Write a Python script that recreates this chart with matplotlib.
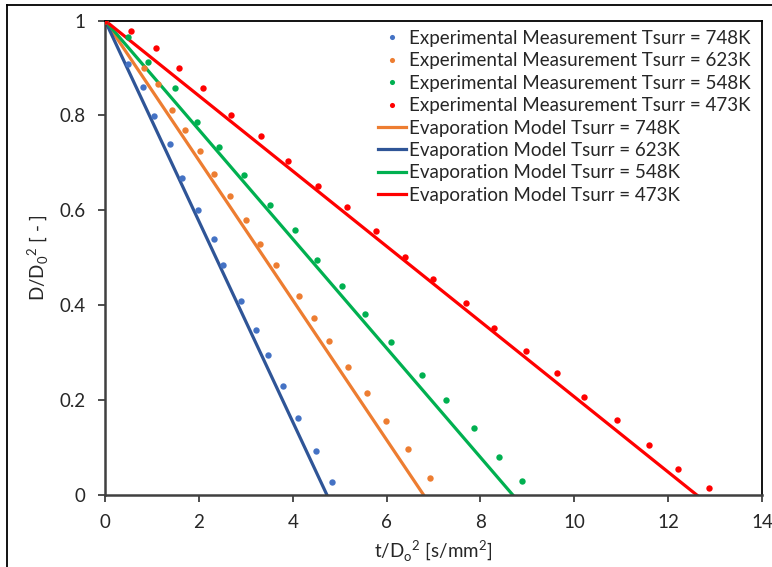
import matplotlib
matplotlib.use("Agg")
import matplotlib.pyplot as plt
from matplotlib.lines import Line2D

plt.rcParams['font.family'] = ['Lato', 'DejaVu Sans']
plt.rcParams['mathtext.fontset'] = 'custom'
plt.rcParams['mathtext.rm'] = 'Lato'

# Experimental data (t/D0^2, D/D0^2)
exp_748_x = [0, 0.497, 0.817, 1.051, 1.386, 1.648, 1.989, 2.324, 2.522, 2.893, 3.213, 3.482, 3.795, 4.122, 4.493, 4.840]
exp_748_y = [1, 0.909, 0.859, 0.799, 0.740, 0.669, 0.600, 0.540, 0.485, 0.408, 0.347, 0.295, 0.230, 0.162, 0.092, 0.027]

exp_623_x = [0, 0.838, 1.136, 1.435, 1.712, 2.032, 2.324, 2.665, 3.006, 3.305, 3.640, 4.143, 4.450, 4.782, 5.188, 5.580, 5.996, 6.461, 6.915]
exp_623_y = [1, 0.899, 0.866, 0.811, 0.770, 0.726, 0.676, 0.631, 0.580, 0.529, 0.485, 0.420, 0.373, 0.325, 0.270, 0.214, 0.155, 0.096, 0.036]

exp_548_x = [0, 0.497, 0.923, 1.493, 1.962, 2.431, 2.970, 3.518, 4.058, 4.520, 5.047, 5.537, 6.098, 6.753, 7.256, 7.861, 8.394, 8.876]
exp_548_y = [1, 0.965, 0.913, 0.858, 0.787, 0.734, 0.675, 0.612, 0.558, 0.496, 0.441, 0.382, 0.323, 0.252, 0.200, 0.141, 0.081, 0.029]

exp_473_x = [0, 0.548, 1.087, 1.571, 2.096, 2.693, 3.326, 3.902, 4.542, 5.154, 5.772, 6.390, 7.000, 7.697, 8.294, 8.977, 9.623, 10.207, 10.910, 11.584, 12.211, 12.878]
exp_473_y = [1, 0.977, 0.942, 0.899, 0.858, 0.801, 0.756, 0.704, 0.652, 0.608, 0.556, 0.501, 0.456, 0.404, 0.353, 0.304, 0.257, 0.207, 0.158, 0.106, 0.054, 0.014]

# Evaporation model lines (start, end)
model_orange_x = [0, 6.79]
model_orange_y = [1, 0]
model_blue_x = [0, 4.73]
model_blue_y = [1, 0]
model_green_x = [0, 8.69]
model_green_y = [1, 0]
model_red_x = [0, 12.61]
model_red_y = [1, 0]

x_ticks = [0, 2, 4, 6, 8, 10, 12, 14]
y_ticks = [0, 0.2, 0.4, 0.6, 0.8, 1.0]
y_ticklabels = ['0', '0.2', '0.4', '0.6', '0.8', '1']

c_blue = '#4472C4'
c_orange = '#ED7D31'
c_green = '#00B050'
c_red = '#FF0000'
c_blue_line = '#2F5597'

fs = 13.5
txt = '#262626'

fig = plt.figure(figsize=(7.72, 5.67), dpi=100)
ax = fig.add_axes([105/772, 72/567, 657/772, 474.5/567])

ms = 4.6
lw = 2.3
h1, = ax.plot(exp_748_x, exp_748_y, 'o', color=c_blue, ms=ms, mec='none', label='Experimental Measurement Tsurr = 748K', zorder=3)
h2, = ax.plot(exp_623_x, exp_623_y, 'o', color=c_orange, ms=ms, mec='none', label='Experimental Measurement Tsurr = 623K', zorder=3)
h3, = ax.plot(exp_548_x, exp_548_y, 'o', color=c_green, ms=ms, mec='none', label='Experimental Measurement Tsurr = 548K', zorder=3)
h4, = ax.plot(exp_473_x, exp_473_y, 'o', color=c_red, ms=ms, mec='none', label='Experimental Measurement Tsurr = 473K', zorder=3)
h5, = ax.plot(model_orange_x, model_orange_y, '-', color=c_orange, lw=lw, label='Evaporation Model Tsurr = 748K', zorder=2)
h6, = ax.plot(model_blue_x, model_blue_y, '-', color=c_blue_line, lw=lw, label='Evaporation Model Tsurr = 623K', zorder=2)
h7, = ax.plot(model_green_x, model_green_y, '-', color=c_green, lw=lw, label='Evaporation Model Tsurr = 548K', zorder=2)
h8, = ax.plot(model_red_x, model_red_y, '-', color=c_red, lw=lw, label='Evaporation Model Tsurr = 473K', zorder=2)

ax.set_xlim(0, 14)
ax.set_ylim(0, 1)
ax.set_xticks(x_ticks)
ax.set_xticklabels([str(v) for v in x_ticks])
ax.set_yticks(y_ticks)
ax.set_yticklabels(y_ticklabels)

for s in ['left', 'bottom']:
    ax.spines[s].set_color('#404040')
    ax.spines[s].set_linewidth(1.8)
for s in ['top', 'right']:
    ax.spines[s].set_color('black')
    ax.spines[s].set_linewidth(1.3)

ax.tick_params(axis='both', direction='out', length=5, width=1.3, color='#404040',
               labelsize=fs, labelcolor=txt)
ax.tick_params(axis='x', pad=9)
ax.tick_params(axis='y', pad=9)

ax.set_xlabel(r't/D$_\mathregular{o}$$^\mathregular{2}$ [s/mm$^\mathregular{2}$]', fontsize=fs, color=txt, labelpad=5)
ax.set_ylabel(r'D/D$_\mathregular{0}$$^\mathregular{2}$ [ - ]', fontsize=fs, color=txt, labelpad=7)

leg = ax.legend(handles=[h1, h2, h3, h4, h5, h6, h7, h8], loc='upper right',
                bbox_to_anchor=(1.0, 1.004), frameon=False, fontsize=fs,
                handlelength=1.5, handletextpad=0.15, labelspacing=0.29,
                borderaxespad=0.2, markerscale=0.8)
for t in leg.get_texts():
    t.set_color(txt)

# figure frame (top and left edges visible in reference)
fig.add_artist(Line2D([7/772, 1.0], [1 - 5/567, 1 - 5/567], transform=fig.transFigure, color='black', lw=1.3))
fig.add_artist(Line2D([7/772, 7/772], [0, 1 - 5/567], transform=fig.transFigure, color='black', lw=1.3))

fig.savefig('out.png', dpi=100)
